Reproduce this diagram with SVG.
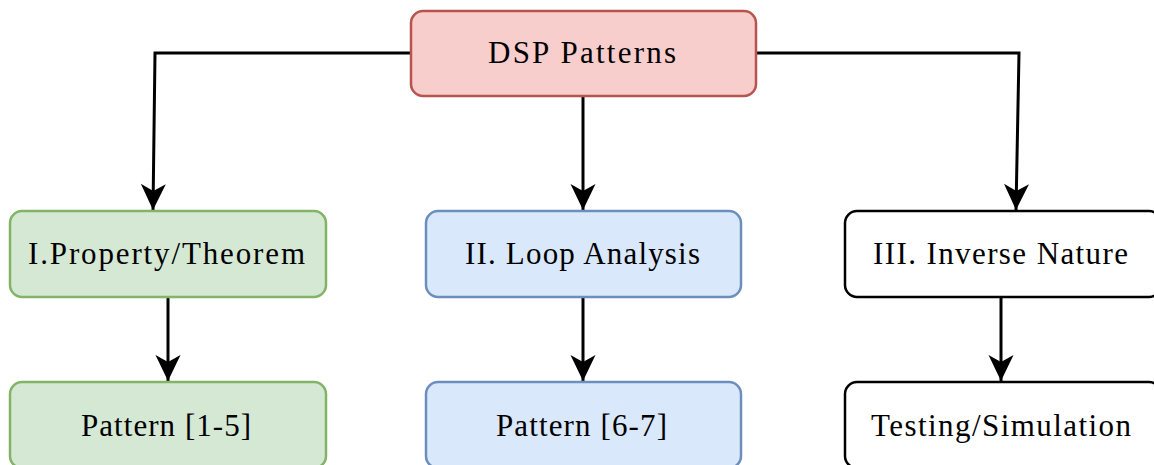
<svg xmlns="http://www.w3.org/2000/svg" width="1154" height="465" viewBox="0 0 1154 465">
<defs>
<style>
.t{font-family:"Liberation Serif","DejaVu Serif",serif;font-size:31px;fill:#000;text-anchor:middle}
.red{fill:#f8cecc;stroke:#b85450;stroke-width:2.5}
.grn{fill:#d5e8d4;stroke:#82b366;stroke-width:2.5}
.blu{fill:#dae8fc;stroke:#6c8ebf;stroke-width:2.5}
.wht{fill:#fff;stroke:#000;stroke-width:2.5}
.c{fill:none;stroke:#000;stroke-width:3;marker-end:url(#a)}
</style>
<marker id="a" markerUnits="userSpaceOnUse" markerWidth="30" markerHeight="30" viewBox="-28 -14 30 28" refX="0" refY="0" orient="auto">
<path d="M0,0 L-26,-12.5 L-19,0 L-26,12.5 Z" fill="#000"/>
</marker>
</defs>
<g id="connectors">
<path class="c" d="M411,53 H155 L153,210"/>
<path class="c" d="M583,96 V210"/>
<path class="c" d="M756,53 H1019 L1016,210"/>
<path class="c" d="M168,297 V381"/>
<path class="c" d="M583,297 V381"/>
<path class="c" d="M1001,297 V381"/>
</g>
<g id="dsp"><rect class="red" x="411" y="11" width="345" height="85" rx="12"/><text class="t" x="582" y="63" textLength="188" lengthAdjust="spacing">DSP Patterns</text></g>
<g id="prop"><rect class="grn" x="10" y="211" width="316" height="86" rx="12"/><text class="t" x="166.5" y="264" textLength="277" lengthAdjust="spacing">I.Property/Theorem</text></g>
<g id="loop"><rect class="blu" x="426" y="211" width="315" height="86" rx="12"/><text class="t" x="582.5" y="264" textLength="235" lengthAdjust="spacing">II. Loop Analysis</text></g>
<g id="inv"><rect class="wht" x="845" y="211" width="316" height="86" rx="12"/><text class="t" x="1000.5" y="264" textLength="255" lengthAdjust="spacing">III. Inverse Nature</text></g>
<g id="p15"><rect class="grn" x="10" y="382" width="316" height="86" rx="12"/><text class="t" x="166" y="436" textLength="170" lengthAdjust="spacing">Pattern [1-5]</text></g>
<g id="p67"><rect class="blu" x="426" y="382" width="315" height="86" rx="12"/><text class="t" x="581.5" y="436" textLength="171" lengthAdjust="spacing">Pattern [6-7]</text></g>
<g id="test"><rect class="wht" x="845" y="382" width="316" height="86" rx="12"/><text class="t" x="1001" y="436" textLength="260" lengthAdjust="spacing">Testing/Simulation</text></g>
</svg>
